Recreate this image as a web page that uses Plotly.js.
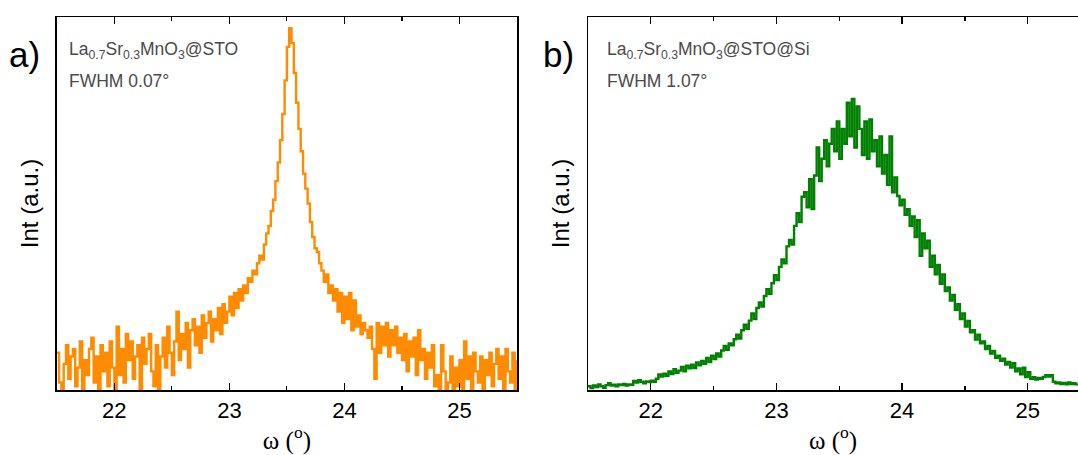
<!DOCTYPE html>
<html>
<head>
<meta charset="utf-8">
<script src="https://cdn.plot.ly/plotly-3.0.1.min.js"></script>
<style>html,body{margin:0;padding:0;background:#fff;}#chart{width:1078px;height:455px;}</style>
</head>
<body>
<div id="chart"></div>
<script>
// Panel a) La0.7Sr0.3MnO3@STO : omega (deg) vs intensity (a.u., read as % of plot height)
const omegaA = [21.50,21.52,21.54,21.56,21.58,21.60,21.62,21.64,21.66,21.68,21.70,21.72,21.74,21.76,21.78,21.80,21.82,21.84,21.86,21.88,21.90,21.92,21.94,21.96,21.98,
22.00,22.02,22.04,22.06,22.08,22.10,22.12,22.14,22.16,22.18,22.20,22.22,22.24,22.26,22.28,22.30,22.32,22.34,22.36,22.38,22.40,22.42,22.44,22.46,22.48,
22.50,22.52,22.54,22.56,22.58,22.60,22.62,22.64,22.66,22.68,22.70,22.72,22.74,22.76,22.78,22.80,22.82,22.84,22.86,22.88,22.90,22.92,22.94,22.96,22.98,
23.00,23.02,23.04,23.06,23.08,23.10,23.12,23.14,23.16,23.18,23.20,23.22,23.24,23.26,23.28,23.30,23.32,23.34,23.36,23.38,23.40,23.42,23.44,23.46,23.48,
23.50,23.52,23.54,23.56,23.58,23.60,23.62,23.64,23.66,23.68,23.70,23.72,23.74,23.76,23.78,23.80,23.82,23.84,23.86,23.88,23.90,23.92,23.94,23.96,23.98,
24.00,24.02,24.04,24.06,24.08,24.10,24.12,24.14,24.16,24.18,24.20,24.22,24.24,24.26,24.28,24.30,24.32,24.34,24.36,24.38,24.40,24.42,24.44,24.46,24.48,
24.50,24.52,24.54,24.56,24.58,24.60,24.62,24.64,24.66,24.68,24.70,24.72,24.74,24.76,24.78,24.80,24.82,24.84,24.86,24.88,24.90,24.92,24.94,24.96,24.98,
25.00,25.02,25.04,25.06,25.08,25.10,25.12,25.14,25.16,25.18,25.20,25.22,25.24,25.26,25.28,25.30,25.32,25.34,25.36,25.38,25.40,25.42,25.44,25.46,25.48,25.50];
const intA = [10,2,0,7,12,3,9,11,1,6,13,0,8,4,11,14,2,9,0,12,5,10,1,13,6,
0,17,4,11,2,15,8,13,3,9,12,0,14,7,11,15,5,1,12,0,9,14,6,17,10,
4,13,21,8,15,11,18,6,16,19,12,17,10,20,14,18,21,13,19,16,22,15,23,18,21,
25,20,26,22,27,24,28,26,30,29,32,31,34,36,35,39,42,44,48,51,56,61,67,74,83,
92,97,93,85,77,70,64,58,54,50,45,41,38,37,34,32,29,31,26,28,24,27,21,26,18,
25,19,26,16,24,17,20,15,18,16,14,17,11,3,18,10,17,12,18,9,16,12,17,10,14,
8,15,5,13,9,14,4,16,8,11,3,10,6,12,1,4,0,12,5,0,2,9,0,6,1,
8,0,13,3,9,0,10,5,2,9,0,8,4,10,1,7,11,3,9,0,11,5,2,10,0,8];

// Panel b) La0.7Sr0.3MnO3@STO@Si
const omegaB = [21.50,21.52,21.54,21.56,21.58,21.60,21.62,21.64,21.66,21.68,21.70,21.72,21.74,21.76,21.78,21.80,21.82,21.84,21.86,21.88,21.90,21.92,21.94,21.96,21.98,
22.00,22.02,22.04,22.06,22.08,22.10,22.12,22.14,22.16,22.18,22.20,22.22,22.24,22.26,22.28,22.30,22.32,22.34,22.36,22.38,22.40,22.42,22.44,22.46,22.48,
22.50,22.52,22.54,22.56,22.58,22.60,22.62,22.64,22.66,22.68,22.70,22.72,22.74,22.76,22.78,22.80,22.82,22.84,22.86,22.88,22.90,22.92,22.94,22.96,22.98,
23.00,23.02,23.04,23.06,23.08,23.10,23.12,23.14,23.16,23.18,23.20,23.22,23.24,23.26,23.28,23.30,23.32,23.34,23.36,23.38,23.40,23.42,23.44,23.46,23.48,
23.50,23.52,23.54,23.56,23.58,23.60,23.62,23.64,23.66,23.68,23.70,23.72,23.74,23.76,23.78,23.80,23.82,23.84,23.86,23.88,23.90,23.92,23.94,23.96,23.98,
24.00,24.02,24.04,24.06,24.08,24.10,24.12,24.14,24.16,24.18,24.20,24.22,24.24,24.26,24.28,24.30,24.32,24.34,24.36,24.38,24.40,24.42,24.44,24.46,24.48,
24.50,24.52,24.54,24.56,24.58,24.60,24.62,24.64,24.66,24.68,24.70,24.72,24.74,24.76,24.78,24.80,24.82,24.84,24.86,24.88,24.90,24.92,24.94,24.96,24.98,
25.00,25.02,25.04,25.06,25.08,25.10,25.12,25.14,25.16,25.18,25.20,25.22,25.24,25.26,25.28,25.30,25.32,25.34,25.36,25.38,25.40];
const intB = [1.0,0.5,1.2,0.8,1.5,1.0,0.6,1.3,1.8,1.2,1.4,1.0,1.5,1.3,1.6,1.2,1.5,1.4,2.4,2.0,2.6,2.2,1.8,2.3,2.1,
2.5,2.2,3.0,4.2,3.6,4.4,3.8,5.0,4.3,5.6,4.6,5.2,6.2,5.0,6.5,5.8,6.8,5.9,7.4,6.6,7.8,7.0,8.6,7.5,9.2,
8.3,9.8,9.0,10.6,11.8,10.8,12.5,12.0,13.6,14.8,13.8,16.0,17.5,16.4,18.6,20.5,19.0,22.0,23.5,22.4,25.2,27.0,25.8,28.6,30.8,
29.5,33.0,35.0,34.0,38.5,40.2,39.0,44.0,47.4,45.0,51.8,53.0,49.0,56.5,48.5,57.5,65.0,56.0,62.0,67.0,60.0,66.0,70.0,64.0,72.0,
62.0,70.0,66.0,77.0,68.0,78.0,65.0,76.0,70.0,63.0,72.0,62.0,72.5,64.0,67.0,60.0,68.0,58.0,63.0,55.0,68.0,53.0,57.0,52.0,49.5,
51.0,47.0,48.5,44.0,46.5,41.0,45.5,36.0,42.0,38.0,40.0,33.0,36.0,31.0,33.5,28.5,31.0,26.5,27.5,24.0,25.5,21.5,23.0,19.0,20.5,
17.0,18.5,15.5,16.0,13.5,14.8,12.5,13.0,11.0,11.8,9.8,10.5,8.6,9.2,7.8,8.4,6.8,7.5,6.0,7.2,5.0,5.8,4.2,6.0,3.5,
4.8,3.0,3.4,2.8,3.2,3.0,3.5,4.0,3.6,4.0,2.2,1.8,2.0,1.6,1.9,1.5,2.0,1.6,1.8,1.5,1.7];

const tickVals = [22, 23, 24, 25];
const tickText = ['22', '23', '24', '25'];
const panelLabels = ['a)', 'b)'];
const sampleNames = ['La<sub>0.7</sub>Sr<sub>0.3</sub>MnO<sub>3</sub>@STO', 'La<sub>0.7</sub>Sr<sub>0.3</sub>MnO<sub>3</sub>@STO@Si'];
const fwhmText = ['FWHM 0.07°', 'FWHM 1.07°'];

const traces = [
  {x: omegaA, y: intA, type: 'scatter', mode: 'lines', line: {color: '#FF8C00', width: 2.4, shape: 'hv'}, xaxis: 'x', yaxis: 'y', hoverinfo: 'skip'},
  {x: omegaB, y: intB, type: 'scatter', mode: 'lines', line: {color: '#008000', width: 2.4, shape: 'hv'}, xaxis: 'x2', yaxis: 'y2', hoverinfo: 'skip'}
];

const sans = 'Liberation Sans, Arial, sans-serif';
function xax(domain, range) {
  return {
    domain: domain, range: range, tickvals: tickVals, ticktext: tickText,
    ticks: 'inside', ticklen: 7, tickwidth: 1.2, tickcolor: '#000',
    minor: {dtick: 0.5, tick0: 21.5, ticks: 'inside', ticklen: 4, tickwidth: 1.2, tickcolor: '#000'},
    showline: true, linecolor: '#000', linewidth: 1.5, mirror: 'ticks',
    showgrid: false, zeroline: false,
    tickfont: {family: sans, size: 22, color: '#000'},
    title: {text: 'ω (<sup>o</sup>)', font: {family: 'Liberation Serif, Times New Roman, serif', size: 25, color: '#000'}, standoff: 10}
  };
}
function yax(anchor) {
  return {
    domain: [0, 1], range: [0, 100], anchor: anchor,
    showticklabels: false, ticks: '', showgrid: false, zeroline: false,
    showline: true, linecolor: '#000', linewidth: 1.5, mirror: true,
    title: {text: 'Int (a.u.)', font: {family: sans, size: 24, color: '#000'}, standoff: 10}
  };
}

const layout = {
  width: 1078, height: 455,
  margin: {l: 0, r: 0, t: 17, b: 65},
  paper_bgcolor: '#fff', plot_bgcolor: '#fff',
  showlegend: false,
  xaxis: xax([56.8 / 1078, 517 / 1078], [21.5, 25.5]),
  yaxis: yax('x'),
  xaxis2: Object.assign(xax([588 / 1078, 1], [21.5, 25.4]), {anchor: 'y2'}),
  yaxis2: yax('x2'),
  annotations: [
    {text: panelLabels[0], x: 25 / 1078, y: 1 - 46 / 455, xref: 'paper', yref: 'paper', xanchor: 'center', yanchor: 'middle', showarrow: false, font: {family: sans, size: 35, color: '#000'}},
    {text: panelLabels[1], x: 558 / 1078, y: 1 - 46 / 455, xref: 'paper', yref: 'paper', xanchor: 'center', yanchor: 'middle', showarrow: false, font: {family: sans, size: 35, color: '#000'}},
    {text: sampleNames[0], x: 67 / 1078, y: 1 - 41 / 455, xref: 'paper', yref: 'paper', xanchor: 'left', yanchor: 'middle', showarrow: false, font: {family: sans, size: 17.5, color: '#4a4a4a'}},
    {text: fwhmText[0], x: 67 / 1078, y: 1 - 78 / 455, xref: 'paper', yref: 'paper', xanchor: 'left', yanchor: 'middle', showarrow: false, font: {family: sans, size: 17.5, color: '#4a4a4a'}},
    {text: sampleNames[1], x: 605 / 1078, y: 1 - 41 / 455, xref: 'paper', yref: 'paper', xanchor: 'left', yanchor: 'middle', showarrow: false, font: {family: sans, size: 17.5, color: '#4a4a4a'}},
    {text: fwhmText[1], x: 605 / 1078, y: 1 - 78 / 455, xref: 'paper', yref: 'paper', xanchor: 'left', yanchor: 'middle', showarrow: false, font: {family: sans, size: 17.5, color: '#4a4a4a'}}
  ]
};

Plotly.newPlot('chart', traces, layout, {staticPlot: true, displayModeBar: false});
</script>
</body>
</html>
